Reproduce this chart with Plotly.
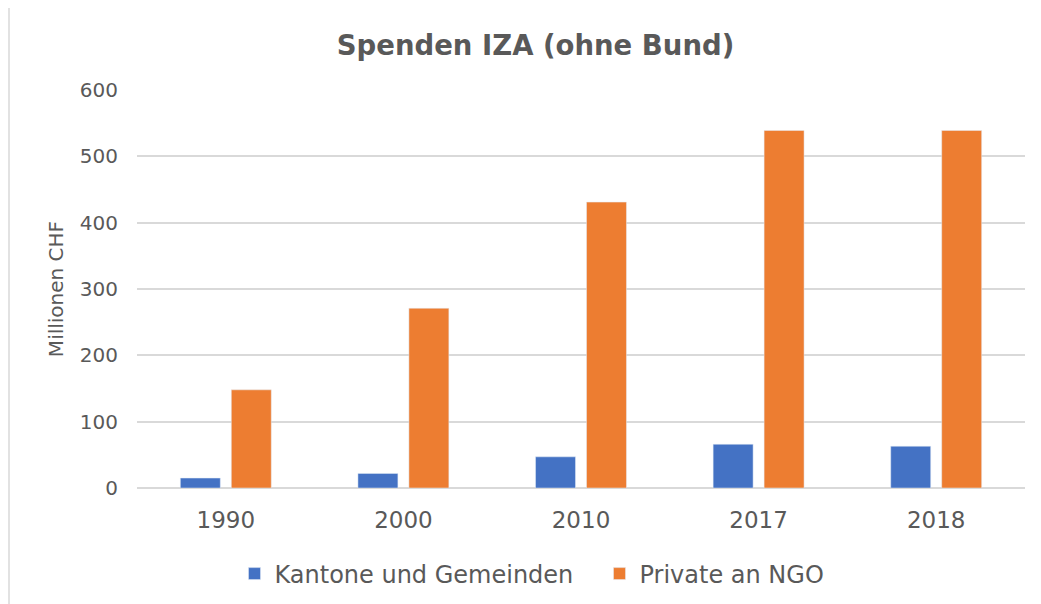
import plotly.graph_objects as go

# data
jahre = ["1990", "2000", "2010", "2017", "2018"]
kantone = [15, 22, 47, 66, 63]
private = [148, 271, 431, 539, 539]

TEXT = "#595959"
FONT = "DejaVu Sans, Verdana, sans-serif"

# the page body adds an 8px margin, so the figure is 8px smaller
# and all reference pixel positions are shifted by -8
OFF = 8
W, H = 1041 - OFF, 604 - OFF
L, R, T, B = 137 - OFF, 1025 - OFF, 90 - OFF, 488 - OFF


def px(p):
    return (p - OFF - L) / (R - L)


def py(q):
    return (B - (q - OFF)) / (B - T)


fig = go.Figure()
fig.add_trace(go.Bar(x=jahre, y=kantone, name="Kantone und Gemeinden",
                     marker=dict(color="#4472C4")))
fig.add_trace(go.Bar(x=jahre, y=private, name="Private an NGO",
                     marker=dict(color="#ED7D31")))

fig.update_layout(
    width=W, height=H,
    margin=dict(l=L, r=W - R, t=T, b=H - B, autoexpand=False),
    plot_bgcolor="white", paper_bgcolor="white",
    font=dict(family=FONT, color=TEXT),
    title=dict(text="<b>Spenden IZA (ohne Bund)</b>",
               x=(535.5 - OFF) / W, xanchor="center",
               y=1 - (45 - OFF) / H, yanchor="middle",
               font=dict(size=27.5, color=TEXT, family=FONT)),
    barmode="group", bargap=0.426, bargroupgap=0.216,
    xaxis=dict(showgrid=False, showline=False, ticks="", tickangle=0,
               tickfont=dict(size=23, color=TEXT), ticklabelstandoff=16),
    yaxis=dict(range=[0, 600], dtick=100, showgrid=True, gridcolor="#D9D9D9",
               gridwidth=1.5, zeroline=True, zerolinecolor="#D9D9D9",
               zerolinewidth=1.5, showline=False, ticks="",
               tickfont=dict(size=20, color=TEXT), ticklabelstandoff=18,
               title=dict(text="Millionen CHF", standoff=10,
                          font=dict(size=20, color=TEXT))),
    legend=dict(orientation="h", x=px(599.5), xanchor="center",
                y=py(574), yanchor="middle",
                font=dict(size=24, color=TEXT),
                entrywidth=320, entrywidthmode="pixels",
                traceorder="normal"),
    shapes=[dict(type="line", xref="paper", yref="paper",
                 x0=px(9), x1=px(9), y0=py(604), y1=py(5),
                 line=dict(color="#D9D9D9", width=1.5), layer="below")],
)

fig.write_html("out.html")
